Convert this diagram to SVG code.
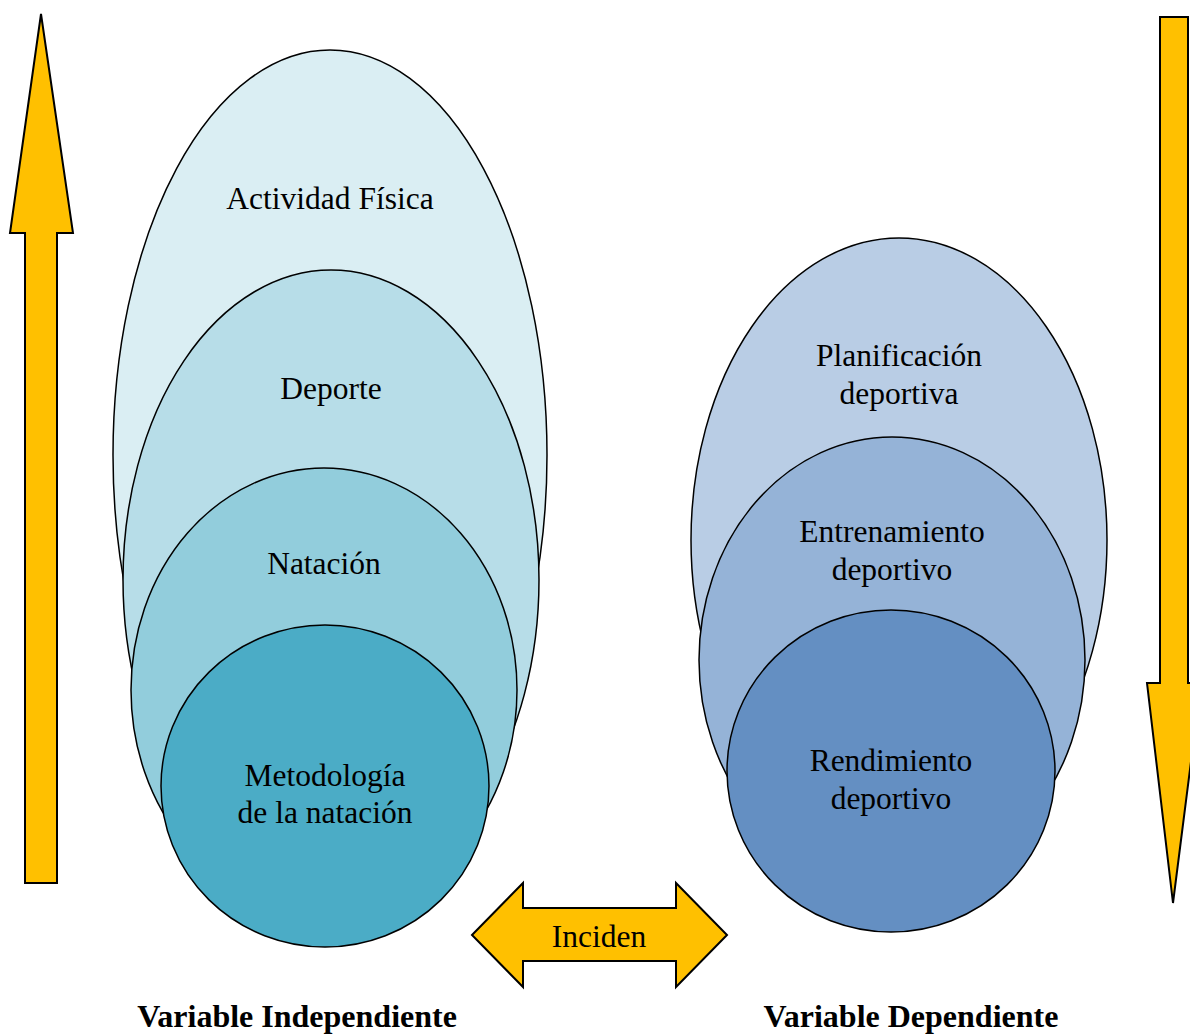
<svg xmlns="http://www.w3.org/2000/svg" width="1190" height="1035" viewBox="0 0 1190 1035">
<style>
.e{stroke:#000;stroke-width:1.5}
.a{fill:#FFC000;stroke:#000;stroke-width:2;stroke-linejoin:miter}
text{font-family:"Liberation Serif","Times New Roman",serif;font-size:31.5px;fill:#000;text-anchor:middle}
.b{font-weight:bold;font-size:32px}
</style>
<rect width="1190" height="1035" fill="#fff"/>
<g id="arrow-up"><polygon class="a" points="41,14 73,233 57,233 57,883 25,883 25,233 10,233"/></g>
<g id="arrow-down"><polygon class="a" points="1160,17 1188,17 1188,683 1201,683 1173,903 1147,683 1160,683"/></g>
<g id="actividad"><ellipse class="e" cx="330" cy="455" rx="217" ry="405" fill="#DAEEF3"/><text x="330" y="209">Actividad Física</text></g>
<g id="deporte"><ellipse class="e" cx="331" cy="580" rx="208" ry="310" fill="#B7DDE8"/><text x="331" y="399">Deporte</text></g>
<g id="natacion"><ellipse class="e" cx="324" cy="690" rx="193" ry="222" fill="#92CDDC"/><text x="324" y="574">Natación</text></g>
<g id="metodologia"><ellipse class="e" cx="325" cy="786" rx="164" ry="161" fill="#4BACC6"/><text x="325" y="786">Metodología</text><text x="325" y="823">de la natación</text></g>
<g id="planificacion"><ellipse class="e" cx="899" cy="540" rx="208" ry="302" fill="#B9CDE5"/><text x="899" y="366">Planificación</text><text x="899" y="404">deportiva</text></g>
<g id="entrenamiento"><ellipse class="e" cx="892" cy="660" rx="193" ry="223" fill="#95B3D7"/><text x="892" y="542">Entrenamiento</text><text x="892" y="580">deportivo</text></g>
<g id="rendimiento"><ellipse class="e" cx="891" cy="771" rx="164" ry="161" fill="#648FC2"/><text x="891" y="771">Rendimiento</text><text x="891" y="809">deportivo</text></g>
<g id="connectors"><polygon class="a" points="472,935 523,883 523,908 676,908 676,883 727,935 676,987 676,961 523,961 523,987"/><text x="599" y="947">Inciden</text></g>
<g id="labels"><text class="b" x="297" y="1027">Variable Independiente</text><text class="b" x="911" y="1027">Variable Dependiente</text></g>
</svg>
